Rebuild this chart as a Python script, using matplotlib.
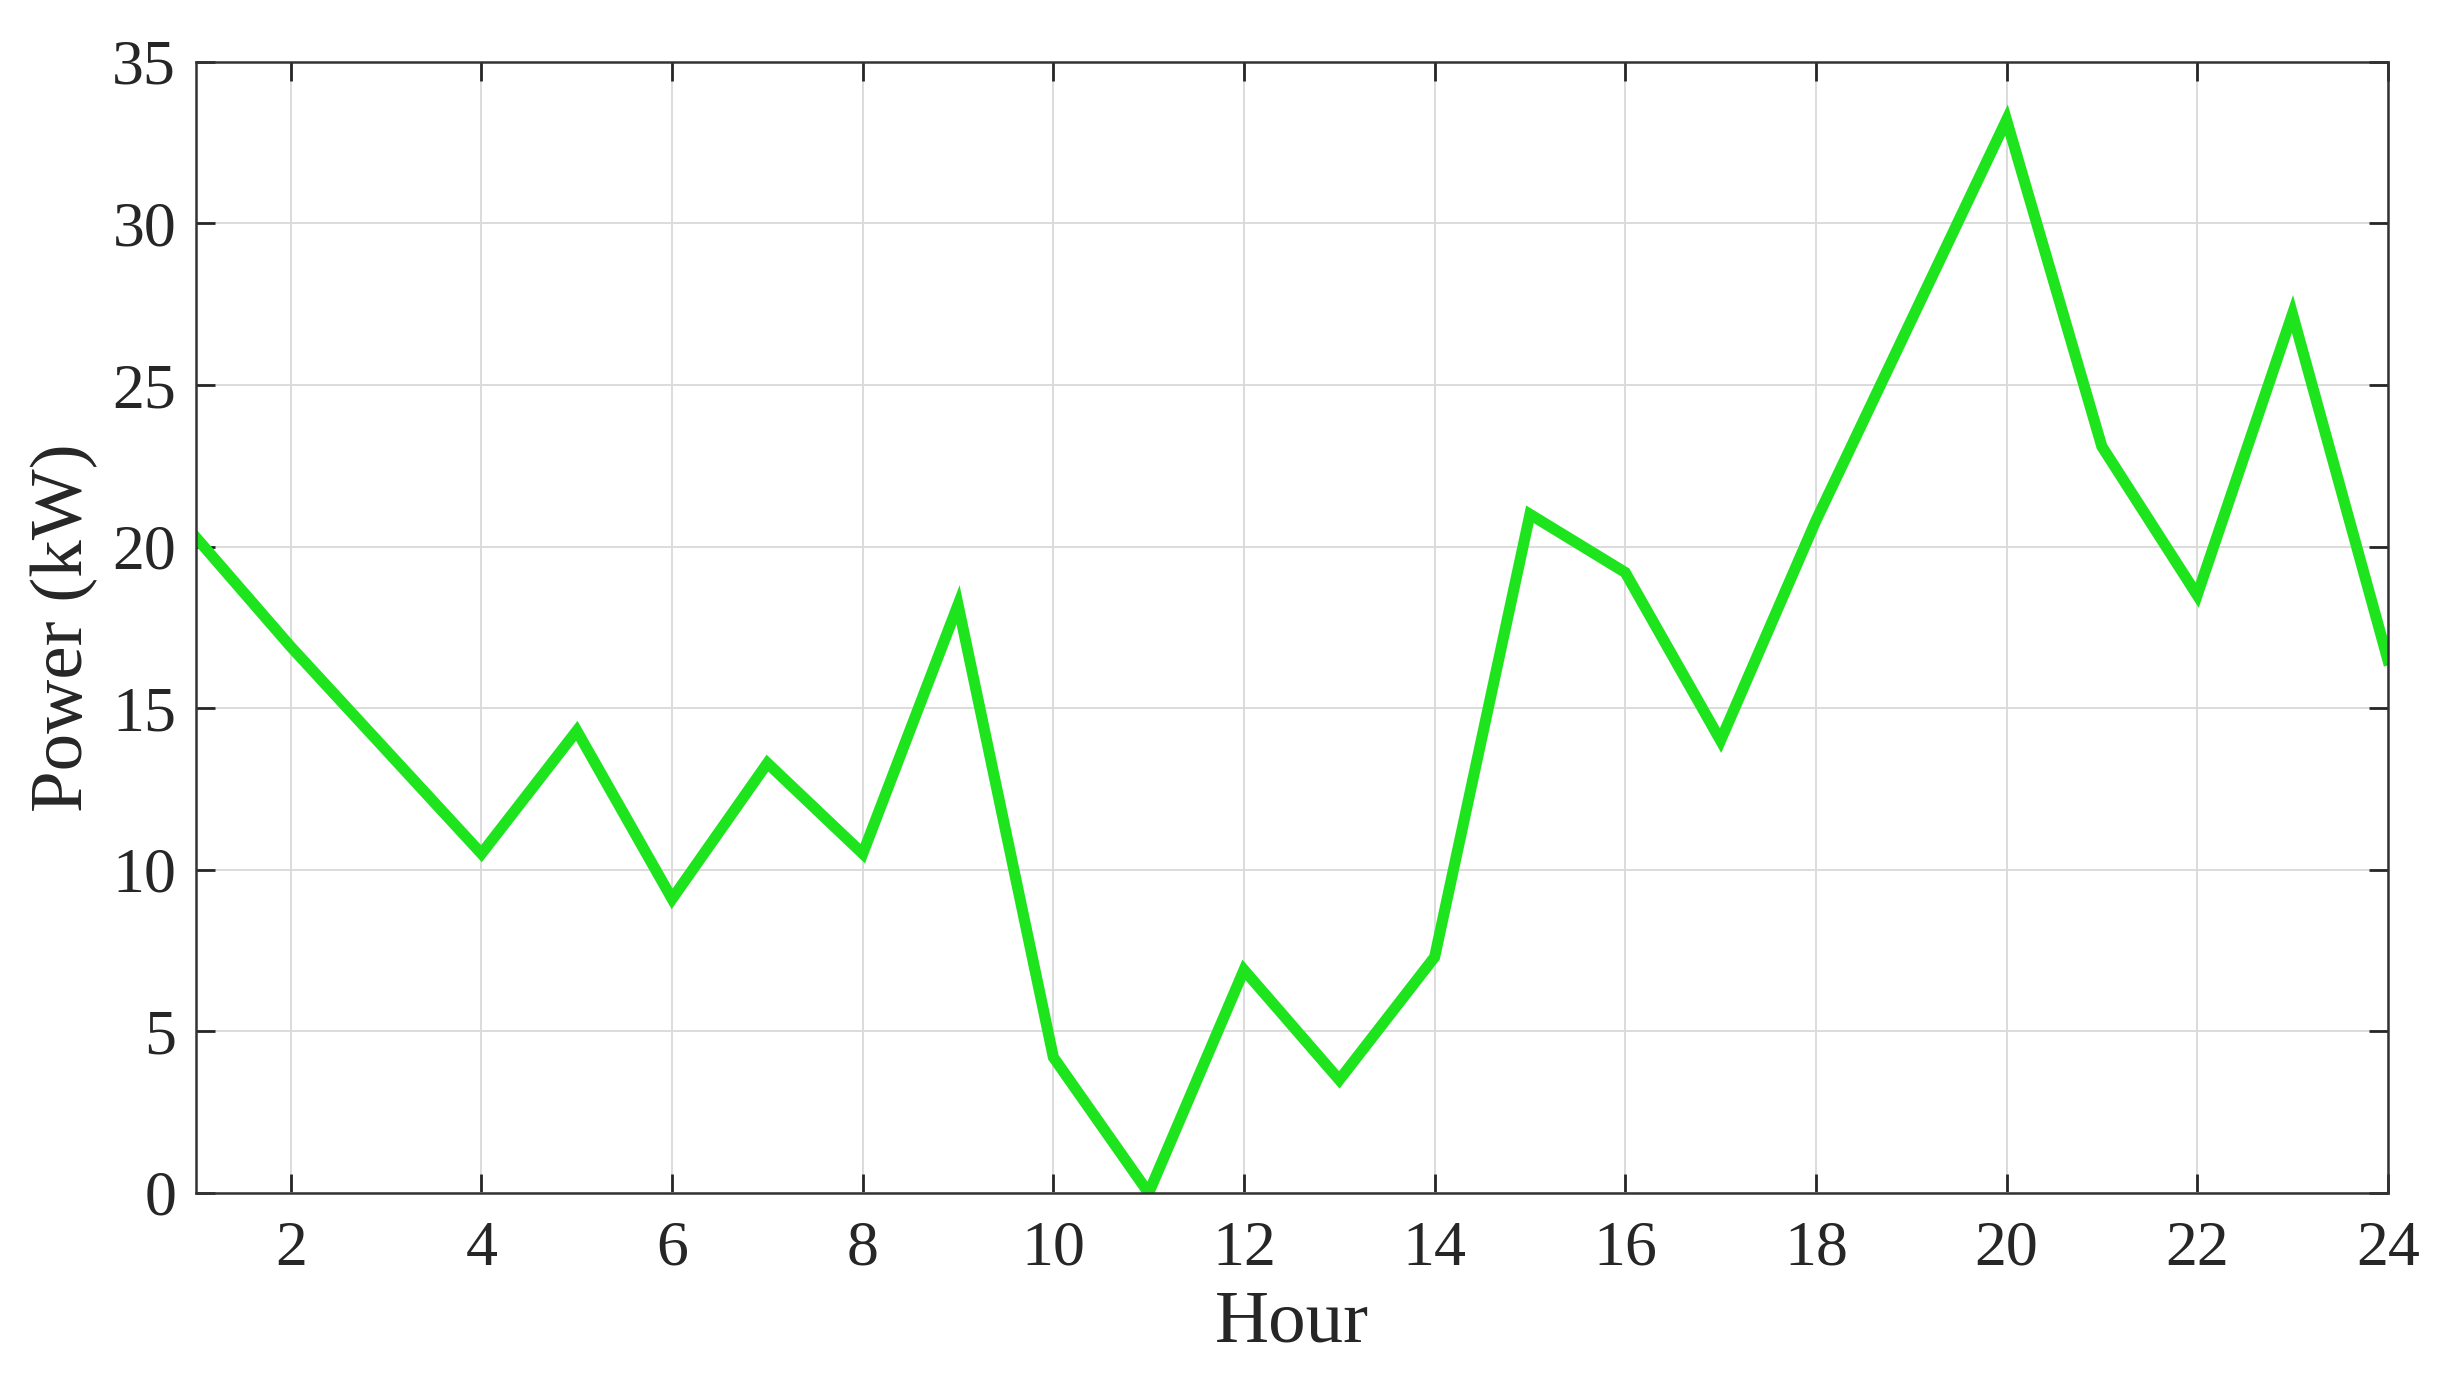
import numpy as np
import matplotlib
matplotlib.use("Agg")
import matplotlib.pyplot as plt

hours = list(range(1, 25))
power = [20.3, 16.9, 13.7, 10.5, 14.3, 9.1, 13.3, 10.5, 18.2, 4.2, 0.0, 6.9,
         3.5, 7.3, 21.0, 19.2, 14.0, 20.8, 27.0, 33.2, 23.1, 18.5, 27.2, 16.5]
x_ticks = list(range(2, 25, 2))
y_ticks = list(range(0, 36, 5))

plt.rcParams['font.family'] = ['Liberation Serif', 'DejaVu Serif']

fig = plt.figure(figsize=(24.44, 13.93), dpi=100)
ax = fig.add_axes([0.080, 0.1436, 0.897, 0.812])

ax.plot(hours, power, color='#1ee41e', linewidth=8, solid_joinstyle='miter')

ax.set_xlim(1, 24)
ax.set_ylim(0, 35)
ax.set_xticks(x_ticks)
ax.set_yticks(y_ticks)
ax.grid(True, color='#d9d9d9', linewidth=1.3)
ax.set_axisbelow(True)

ax.tick_params(direction='in', length=14, width=2, colors='#262626',
               labelsize=46, top=True, right=True)
ax.tick_params(axis='x', pad=20)
ax.tick_params(axis='y', pad=14)
for s in ax.spines.values():
    s.set_color('#333333')
    s.set_linewidth(1.8)

ax.set_xlabel("Hour", fontsize=54, color='#262626', labelpad=8)
ax.set_ylabel("Power (kW)", fontsize=54, color='#262626', labelpad=10)

fig.savefig("out.png", dpi=100, facecolor='white')
